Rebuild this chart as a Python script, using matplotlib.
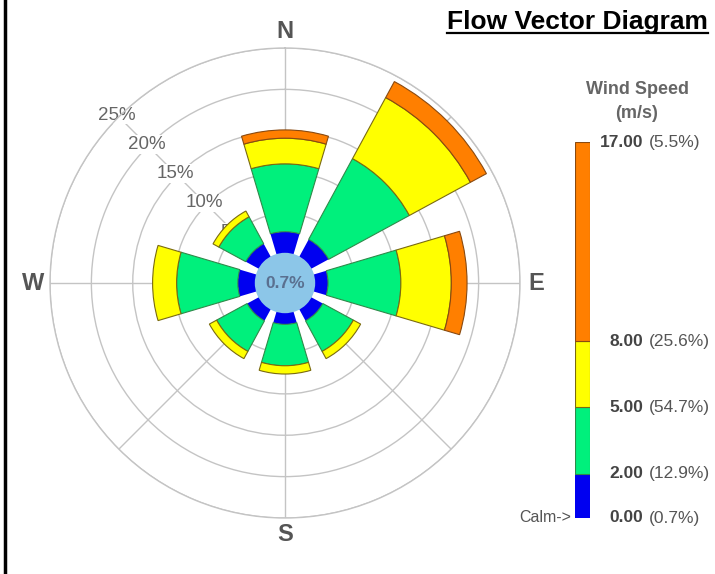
import numpy as np
import matplotlib
matplotlib.use("Agg")
import matplotlib.pyplot as plt
from matplotlib.lines import Line2D
from matplotlib.transforms import blended_transform_factory

plt.rcParams['font.family'] = ['Liberation Sans', 'DejaVu Sans']

# direction sectors and % frequency per speed class (stacked)
directions = ['N', 'NE', 'E', 'SE', 'S', 'SW', 'W', 'NW']
pct_0_2 = [2.8, 2.6, 1.8, 1.8, 1.6, 1.8, 2.3, 2.0]
pct_2_5 = [8.2, 11.1, 8.8, 4.2, 5.0, 4.2, 7.4, 3.7]
pct_5_8 = [3.1, 8.4, 6.1, 1.0, 1.0, 1.0, 2.9, 0.8]
pct_8_17 = [1.0, 2.2, 1.9, 0.0, 0.0, 0.0, 0.0, 0.0]
calm_pct = 0.7

ring_ticks = [5, 10, 15, 20, 25]
speed_bins = [0, 2, 5, 8, 17]
bin_share = ['0.7%', '12.9%', '54.7%', '25.6%', '5.5%']

colors = ['#0000f0', '#00f07c', '#ffff00', '#ff7f00']
edges = [None, '#2f8a4a', '#7a6a10', '#8a4a10']

W, H = 715, 574
fig = plt.figure(figsize=(W / 100, H / 100), dpi=100)

ax = fig.add_axes([50 / W, 56 / H, 470 / W, 470 / H], projection='polar')
ax.set_theta_zero_location('N')
ax.set_theta_direction(-1)
rmin = -3.4
ax.set_ylim(rmin, 25)

theta = np.deg2rad(np.arange(len(directions)) * 45)
width = np.deg2rad(33)
bottom = np.zeros(len(directions))
for vals, c, ec in zip([pct_0_2, pct_2_5, pct_5_8, pct_8_17], colors, edges):
    vals = np.array(vals)
    m = vals > 0
    ax.bar(theta[m], vals[m], width=width, bottom=bottom[m], color=c,
           edgecolor=ec if ec else 'none', linewidth=0.8 if ec else 0, zorder=3)
    bottom += vals

# calm disk in the middle
ax.bar(0, 0.25 - rmin, width=2 * np.pi, bottom=rmin, color='#8cc6e8', linewidth=0, zorder=4)
ax.text(0, rmin, f'{calm_pct}%', ha='center', va='center', fontsize=12.5,
        fontweight='bold', color='#5a7090', zorder=5)

ax.set_xticks(theta)
ax.set_xticklabels([])
ax.set_yticks(ring_ticks)
ax.set_yticklabels([])
ax.tick_params(length=0)
ax.grid(True, color='#c4c4c4', linewidth=1.0, zorder=0)
ax.set_axisbelow(True)
ax.spines['polar'].set_color('#c4c4c4')
ax.spines['polar'].set_linewidth(1.0)

for r in ring_ticks:
    ax.text(np.deg2rad(315), r + 0.3, f'{r}%', ha='center', va='center', fontsize=13.5,
            color='#666666', zorder=2,
            bbox=dict(facecolor='white', edgecolor='none', pad=0.5))

for lab, t in zip(['N', 'E', 'S', 'W'], [0, 90, 180, 270]):
    ax.text(np.deg2rad(t), 27.0, lab, ha='center', va='center', fontsize=17,
            fontweight='bold', color='#555555', clip_on=False)

# legend bar
lax = fig.add_axes([575 / W, 56 / H, 15 / W, 376 / H])
for i in range(len(speed_bins) - 1):
    lax.bar(0.5, speed_bins[i + 1] - speed_bins[i], bottom=speed_bins[i], width=1,
            color=colors[i], edgecolor=edges[i] if edges[i] else 'none',
            linewidth=0.8 if edges[i] else 0)
lax.set_xlim(0, 1)
lax.set_ylim(0, 17)
lax.axis('off')

tr = blended_transform_factory(fig.transFigure, lax.transData)
for v, s in zip(speed_bins, bin_share):
    lax.text(643 / W, v, f'{v:.2f}', transform=tr, ha='right', va='center',
             fontsize=12.5, fontweight='bold', color='#444444')
    lax.text(649 / W, v, f'({s})', transform=tr, ha='left', va='center',
             fontsize=12.5, color='#555555')
lax.text(571 / W, 0, 'Calm->', transform=tr, ha='right', va='center',
         fontsize=11.5, color='#555555')

fig.text(637 / W, 1 - 90 / H, 'Wind Speed', ha='center', va='center', fontsize=13,
         fontweight='bold', color='#666666')
fig.text(637 / W, 1 - 114 / H, '(m/s)', ha='center', va='center', fontsize=13,
         fontweight='bold', color='#666666')

title = fig.text(708 / W, 1 - 29 / H, 'Flow Vector Diagram', ha='right', va='baseline',
                 fontsize=19, fontweight='bold', color='black')
fig.canvas.draw()
bb = title.get_window_extent()
y_ul = 1 - 33 / H
fig.add_artist(Line2D([bb.x0 / W, bb.x1 / W], [y_ul, y_ul], color='black', linewidth=1.6))

# left frame line
fig.add_artist(Line2D([4.5 / W, 4.5 / W], [0, 1], color='black', linewidth=2.5))

fig.savefig('out.png', dpi=100)
